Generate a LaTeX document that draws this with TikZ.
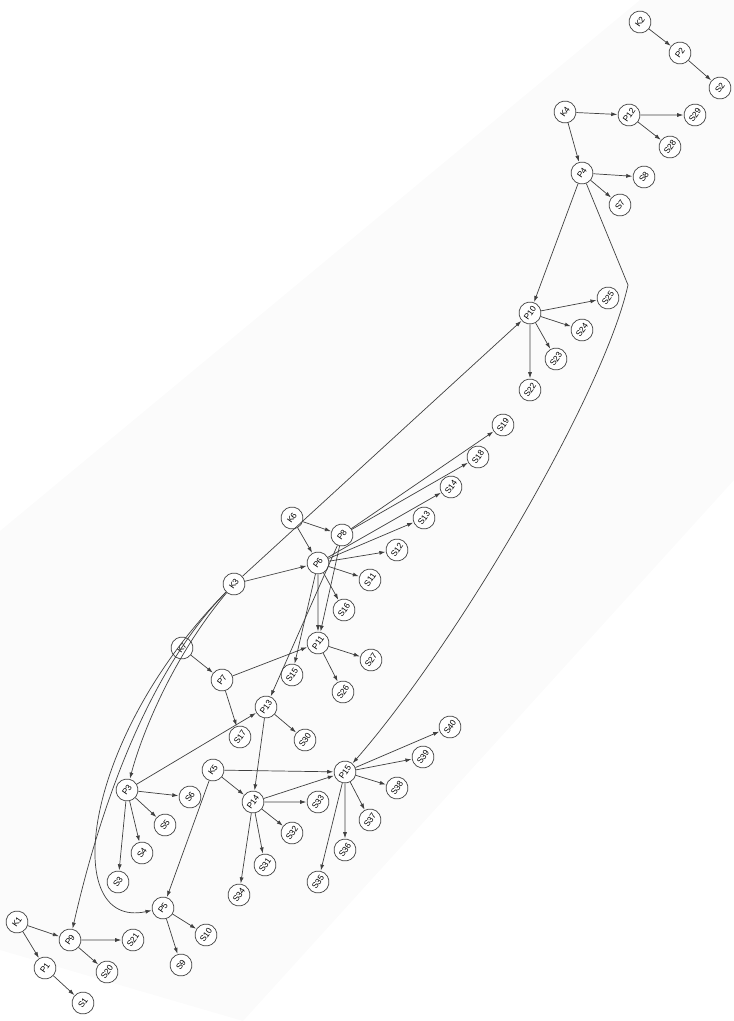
\documentclass[tikz,border=0pt]{standalone}
\usepackage{fontspec}
\setsansfont{Liberation Sans}
\usetikzlibrary{arrows.meta}
\begin{document}
\begin{tikzpicture}[x=0.025cm,y=-0.025cm,
  vtx/.style={circle,draw=black!75,fill=white,line width=0.5pt,minimum size=22*0.025cm,inner sep=0pt,font=\sffamily\fontsize{6}{7}\selectfont,rotate=55},
  arr/.style={-{Latex[length=1.5mm,width=1mm]},draw=black!75,line width=0.5pt,shorten >=0.3pt}]
  \useasboundingbox (0,0) rectangle (734,1021);
  \fill[black!1.5] (0,531) -- (640,0) -- (734,0) -- (734,480) -- (243,1021) -- (0,950) -- cycle;
  % vertices
  \foreach \n/\x/\y in {K2/640/22, P2/680/53, S2/720/88, K4/565/112, P12/629/115, S29/695/115,
      S28/670/147, P4/582/173, S8/644/177, S7/620/205, P10/530/313, S25/608/298, S24/582/330,
      S23/556/359, S22/530/390, S19/503/425, S18/478/457, S14/451/487, S13/424/518, K6/292/518,
      P8/342/535, P6/318/563, S12/397/550, S11/370/580, K3/234/584, S16/344/610, K7/182/648,
      P11/318/643, S27/371/660, P7/222/680, S15/292/675, S26/343/692, P13/266/707, S17/240/737,
      S30/305/740, S40/450/727, S39/423/757, K5/213/770, P15/345/772, S38/397/788, P3/127/790,
      S6/190/797, P14/253/802, S33/318/802, S5/165/825, S32/292/833, S37/370/820, S4/142/853,
      S36/345/850, S31/265/865, S3/118/882, S35/318/882, S34/239/895, P5/163/908, S10/206/935,
      K1/17/922, P9/70/940, S21/133/940, P1/45/968, S20/107/972, S9/181/965, S1/83/1003}
    \node[vtx] (\n) at (\x,\y) {\n};
  % straight edges
  \foreach \a/\b in {K2/P2, P2/S2, K4/P12, K4/P4, P12/S29, P12/S28, P4/S8, P4/S7, P4/P10,
      P10/S25, P10/S24, P10/S23, P10/S22, K3/P10, K6/P8, K6/P6, K3/P6, P8/S19, P8/S18,
      P6/S14, P6/S13, P6/S12, P6/S11, P6/S16, P6/S15, P6/P11, P8/P11, P8/P13, K7/P7,
      P7/P11, P7/S17, P11/S27, P11/S26, P13/S30, P13/P14, P3/P13, P3/S6, P3/S5,
      P3/S4, P3/S3, K5/P15, K5/P14, K5/P5, P14/P15, P14/S33, P14/S32, P14/S31, P14/S34,
      P15/S40, P15/S39, P15/S38, P15/S37, P15/S36, P15/S35, P5/S10, P5/S9, K1/P9, K1/P1,
      P9/S21, P9/S20, P1/S1}
    \draw[arr] (\a) -- (\b);
  % curved edges
  \coordinate (bend) at (628,285);
  \draw[arr] (P4) -- (bend) .. controls (605,390) and (460,640) .. (P15);
  \draw[arr] (K3) .. controls (170,660) and (140,740) .. (P3);
  \draw[arr] (K3) .. controls (140,680) and (95,830) .. (P9);
  \draw[arr] (K3) .. controls (80,740) and (60,930) .. (P5);
\end{tikzpicture}
\end{document}
